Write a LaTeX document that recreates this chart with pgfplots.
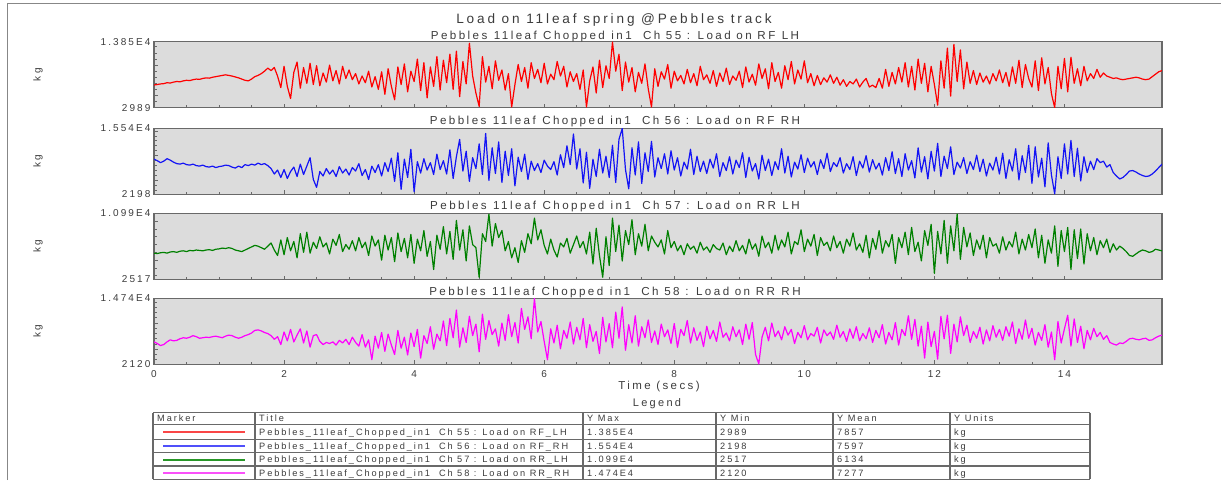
\documentclass[border=0pt]{standalone}
\usepackage{fontspec}
\setmainfont{Liberation Sans}
\newfontfamily\trk[LetterSpace=21]{Liberation Sans}
\usepackage{pgfplots}
\pgfplotsset{compat=1.18}
\definecolor{bg}{RGB}{220,220,220}
\definecolor{frm}{RGB}{105,105,105}
\definecolor{txt}{RGB}{60,60,60}
\definecolor{sred}{RGB}{255,0,0}
\definecolor{sblue}{RGB}{20,20,245}
\definecolor{sgreen}{RGB}{0,128,0}
\definecolor{smag}{RGB}{255,0,255}
\definecolor{lred}{RGB}{250,70,70}
\definecolor{lblue}{RGB}{80,80,250}
\definecolor{lgreen}{RGB}{40,150,40}
\definecolor{lmag}{RGB}{250,80,250}
\newcommand{\ft}[1]{\trk\fontsize{#1}{#1}\selectfont}
\newcommand{\us}{\hphantom{\_}}
\pgfplotsset{panel/.style={scale only axis, width=1008pt, height=66pt,
  xmin=0, xmax=15.5, axis background/.style={fill=bg},
  axis line style={draw=frm,line width=1.4pt},
  tick align=inside, xtick pos=left, ytick pos=left,
  xtick={0,2,...,14}, minor x tick num=3,
  major tick length=4pt, minor tick length=2.5pt,
  every tick/.style={draw=frm, line width=0.8pt},
  xticklabels={}, scaled y ticks=false,
  yticklabel style={font={\ft{10}}, text=txt},
  xticklabel style={font={\ft{10}}, text=txt, yshift=-2.5pt},
  /pgf/number format/assume math mode=true,
  every axis plot/.append style={line width=1.2pt, line join=round},
  anchor=south west}}
\begin{document}
\begin{tikzpicture}
\path[use as bounding box] (0pt,0pt) rectangle (1221pt,-480pt);
\draw[draw=frm!80, line width=0.9pt] (7.3pt,-480pt) -- (7.3pt,-3.3pt) -- (1221pt,-3.3pt);

% Panel 1
\begin{axis}[panel, at={(154pt,-107.7pt)},
  ymin=2989, ymax=13850, ytick={2989,5000,10000,13850}, yticklabels={2989,,,1.385E4},
  minor ytick={3000,4000,...,13000}]
\addplot[sred] table[row sep=\\, header=false, x expr=\coordindex*0.05, y index=0] {
6720\\ 6800\\ 6900\\ 6950\\ 7100\\ 7050\\ 7200\\ 7300\\ 7250\\ 7400\\
7500\\ 7450\\ 7600\\ 7700\\ 7650\\ 7800\\ 7900\\ 7850\\ 8000\\ 8100\\
8200\\ 8300\\ 8400\\ 8300\\ 8200\\ 8050\\ 7900\\ 7700\\ 7500\\ 7400\\
7700\\ 8100\\ 8300\\ 8600\\ 9000\\ 9500\\ 9100\\ 9600\\ 8200\\ 6300\\
9800\\ 6500\\ 4500\\ 8800\\ 10500\\ 6200\\ 9600\\ 7000\\ 10300\\ 6800\\
9900\\ 6600\\ 8700\\ 7200\\ 10000\\ 7400\\ 9100\\ 6900\\ 9800\\ 7800\\
9200\\ 7600\\ 8600\\ 6900\\ 8200\\ 7100\\ 9000\\ 6400\\ 8100\\ 6000\\
8900\\ 5200\\ 9400\\ 6500\\ 4300\\ 9700\\ 6800\\ 10200\\ 5600\\ 9000\\
7300\\ 11000\\ 5800\\ 10400\\ 4600\\ 9700\\ 6500\\ 11400\\ 5900\\ 10800\\
7100\\ 11800\\ 6000\\ 12300\\ 4800\\ 10600\\ 6900\\ 13600\\ 8200\\ 5400\\
3200\\ 11400\\ 7200\\ 9800\\ 6100\\ 10700\\ 7500\\ 9200\\ 5900\\ 8600\\
3100\\ 6800\\ 10100\\ 7300\\ 9600\\ 6200\\ 10400\\ 7800\\ 9300\\ 7100\\
10300\\ 6900\\ 8500\\ 7600\\ 10600\\ 8200\\ 9800\\ 6400\\ 8900\\ 7300\\
8600\\ 6000\\ 9200\\ 3100\\ 7400\\ 9700\\ 5400\\ 10800\\ 6300\\ 9900\\
7800\\ 13800\\ 9000\\ 11800\\ 5800\\ 10500\\ 7200\\ 9600\\ 5600\\ 8800\\
7000\\ 10200\\ 6100\\ 3100\\ 9400\\ 6500\\ 8900\\ 7700\\ 10100\\ 6200\\
9000\\ 7400\\ 8300\\ 6900\\ 9300\\ 7100\\ 8600\\ 6600\\ 9800\\ 7600\\
8400\\ 7000\\ 9100\\ 6500\\ 8700\\ 7300\\ 9500\\ 6800\\ 8200\\ 7500\\
9000\\ 6300\\ 9700\\ 7200\\ 8500\\ 6700\\ 10200\\ 7800\\ 9400\\ 6100\\
10400\\ 7300\\ 8800\\ 6200\\ 9900\\ 7600\\ 10600\\ 6900\\ 9200\\ 7700\\
10700\\ 7100\\ 8600\\ 6600\\ 8300\\ 6800\\ 7900\\ 7200\\ 8400\\ 7000\\
8000\\ 6700\\ 7600\\ 6500\\ 7300\\ 6900\\ 7700\\ 6400\\ 7200\\ 7800\\
6400\\ 6700\\ 6300\\ 7800\\ 6200\\ 9300\\ 6500\\ 8800\\ 6900\\ 9600\\
7200\\ 10400\\ 6400\\ 9800\\ 5900\\ 11000\\ 7000\\ 10300\\ 5600\\ 9800\\
6800\\ 3400\\ 10700\\ 6200\\ 12800\\ 4900\\ 13400\\ 7300\\ 12500\\ 6100\\
10500\\ 7000\\ 9100\\ 6800\\ 8700\\ 7200\\ 8200\\ 6900\\ 8600\\ 7400\\
9200\\ 7100\\ 8800\\ 6500\\ 9700\\ 7000\\ 10800\\ 6300\\ 10100\\ 7800\\
6400\\ 10700\\ 5800\\ 11200\\ 6900\\ 9600\\ 5300\\ 3000\\ 9800\\ 6100\\
11100\\ 5600\\ 11300\\ 7000\\ 9400\\ 6600\\ 9800\\ 7400\\ 8600\\ 7800\\
9300\\ 8000\\ 8700\\ 8200\\ 8000\\ 7800\\ 7900\\ 7700\\ 7600\\ 7700\\
7800\\ 7900\\ 8000\\ 7900\\ 7700\\ 7600\\ 7700\\ 8100\\ 8500\\ 8900\\ 9100\\
};
\end{axis}

% Panel 2
\begin{axis}[panel, at={(154pt,-194.3pt)},
  ymin=2198, ymax=15540, ytick={2198,5000,10000,15000,15540}, yticklabels={2198,,,,1.554E4},
  minor ytick={3000,4000,...,15000}]
\addplot[sblue] table[row sep=\\, header=false, x expr=\coordindex*0.05, y index=0] {
9300\\ 9000\\ 8600\\ 8900\\ 9400\\ 9100\\ 8700\\ 8400\\ 8300\\ 8500\\
8200\\ 8100\\ 8300\\ 8000\\ 7900\\ 8100\\ 7800\\ 7700\\ 7900\\ 7600\\
7800\\ 7900\\ 8100\\ 8000\\ 7700\\ 7500\\ 7900\\ 7600\\ 8200\\ 8000\\
8300\\ 8100\\ 8500\\ 8200\\ 8400\\ 8000\\ 7400\\ 6300\\ 7100\\ 5600\\
7200\\ 5400\\ 6800\\ 7700\\ 5800\\ 8300\\ 6200\\ 7900\\ 9600\\ 5200\\
3600\\ 6800\\ 5900\\ 7400\\ 6300\\ 7100\\ 5800\\ 7800\\ 6500\\ 7300\\
6100\\ 7600\\ 6900\\ 8400\\ 6000\\ 7200\\ 5200\\ 7900\\ 6600\\ 8200\\
5900\\ 8600\\ 6800\\ 9500\\ 4800\\ 10600\\ 3200\\ 9300\\ 5600\\ 11300\\
2700\\ 8800\\ 6500\\ 9400\\ 7100\\ 8600\\ 6200\\ 10300\\ 7200\\ 9000\\
6300\\ 11200\\ 5400\\ 9800\\ 13300\\ 6900\\ 10900\\ 4800\\ 9600\\ 7400\\
12400\\ 6200\\ 14500\\ 5000\\ 11600\\ 6400\\ 12800\\ 4600\\ 10900\\ 6000\\
11400\\ 3900\\ 9700\\ 6800\\ 10300\\ 5200\\ 8900\\ 7000\\ 8400\\ 6600\\
9100\\ 7900\\ 7200\\ 8800\\ 6100\\ 10200\\ 7600\\ 12000\\ 8200\\ 14400\\
7300\\ 11400\\ 4500\\ 10700\\ 3400\\ 9300\\ 5800\\ 11300\\ 6500\\ 9900\\
5600\\ 12100\\ 4600\\ 13300\\ 15500\\ 7200\\ 3300\\ 11600\\ 6100\\ 12800\\
4400\\ 10600\\ 6800\\ 12900\\ 5700\\ 9600\\ 7400\\ 10400\\ 6300\\ 11000\\
7100\\ 9600\\ 5900\\ 8700\\ 7300\\ 11300\\ 6200\\ 9900\\ 6800\\ 8900\\
6400\\ 9300\\ 7500\\ 10400\\ 5800\\ 8600\\ 7000\\ 9800\\ 6300\\ 9100\\
7600\\ 10600\\ 5600\\ 9700\\ 6900\\ 8400\\ 5300\\ 10100\\ 7000\\ 9300\\
6000\\ 8800\\ 7200\\ 11400\\ 6500\\ 9900\\ 5700\\ 8700\\ 7300\\ 10200\\
6600\\ 9500\\ 7700\\ 8800\\ 6200\\ 9200\\ 7400\\ 10500\\ 6800\\ 8600\\
7800\\ 9600\\ 6500\\ 8400\\ 7200\\ 9800\\ 6000\\ 8900\\ 7500\\ 10000\\
6700\\ 9200\\ 7300\\ 8500\\ 6100\\ 9600\\ 7000\\ 10800\\ 6400\\ 9400\\
5800\\ 10400\\ 7100\\ 9000\\ 5500\\ 11600\\ 6700\\ 9800\\ 5300\\ 10900\\
6900\\ 12500\\ 5800\\ 9900\\ 7400\\ 11800\\ 6200\\ 8700\\ 7500\\ 9600\\
6400\\ 8800\\ 7200\\ 10100\\ 6800\\ 9300\\ 5900\\ 8500\\ 7100\\ 9700\\
6300\\ 10500\\ 5400\\ 9200\\ 6900\\ 11400\\ 5100\\ 10000\\ 6600\\ 12100\\
4400\\ 11800\\ 5700\\ 9500\\ 3700\\ 12600\\ 6100\\ 2300\\ 9800\\ 5400\\
12400\\ 6300\\ 13100\\ 5800\\ 11500\\ 4900\\ 9800\\ 6600\\ 8900\\ 7200\\
9400\\ 8600\\ 8900\\ 7700\\ 8200\\ 6600\\ 5900\\ 5300\\ 5600\\ 6200\\
6900\\ 7000\\ 6700\\ 6300\\ 6000\\ 5800\\ 5900\\ 6300\\ 6900\\ 7600\\ 8300\\
};
\end{axis}

% Panel 3
\begin{axis}[panel, at={(154pt,-279.5pt)},
  ymin=2517, ymax=10990, ytick={2517,5000,10000,10990}, yticklabels={2517,,,1.099E4},
  minor ytick={3000,4000,...,10000}]
\addplot[sgreen] table[row sep=\\, header=false, x expr=\coordindex*0.05, y index=0] {
5900\\ 5850\\ 5950\\ 6000\\ 5900\\ 6050\\ 6100\\ 6000\\ 6150\\ 6200\\
6100\\ 6250\\ 6200\\ 6300\\ 6250\\ 6200\\ 6300\\ 6350\\ 6250\\ 6400\\
6450\\ 6550\\ 6500\\ 6600\\ 6500\\ 6300\\ 6200\\ 6100\\ 6300\\ 6500\\
6700\\ 6900\\ 6800\\ 6600\\ 6400\\ 6800\\ 7200\\ 6300\\ 5600\\ 7600\\
5700\\ 7900\\ 6200\\ 7400\\ 5300\\ 8400\\ 6000\\ 8600\\ 5900\\ 7300\\
6500\\ 8000\\ 6700\\ 7200\\ 5800\\ 7700\\ 6900\\ 8300\\ 6100\\ 7000\\
6400\\ 7500\\ 6200\\ 7900\\ 6600\\ 7300\\ 5600\\ 8100\\ 6800\\ 7600\\
5000\\ 8200\\ 6300\\ 7900\\ 4800\\ 8500\\ 6100\\ 7800\\ 5300\\ 8300\\
4600\\ 7700\\ 6200\\ 8800\\ 5500\\ 7400\\ 3800\\ 8200\\ 6400\\ 9300\\
5800\\ 8700\\ 5100\\ 10100\\ 6300\\ 8900\\ 4900\\ 9400\\ 7000\\ 6600\\
2800\\ 8400\\ 7400\\ 10900\\ 6800\\ 9700\\ 7900\\ 8800\\ 6200\\ 7400\\
5300\\ 6600\\ 4700\\ 7500\\ 6000\\ 8400\\ 7100\\ 10400\\ 7600\\ 8900\\
6900\\ 5800\\ 7700\\ 6300\\ 5400\\ 7200\\ 6700\\ 7800\\ 5900\\ 7000\\
8100\\ 6600\\ 7400\\ 5800\\ 8600\\ 4500\\ 9100\\ 5600\\ 2800\\ 8000\\
4300\\ 10400\\ 6100\\ 9500\\ 4900\\ 8800\\ 7000\\ 10200\\ 5700\\ 8400\\
6800\\ 9600\\ 6200\\ 8100\\ 7300\\ 6700\\ 7600\\ 5800\\ 8800\\ 6600\\
7400\\ 6200\\ 6900\\ 5700\\ 7100\\ 6400\\ 6800\\ 5900\\ 7300\\ 6300\\
6700\\ 6000\\ 7000\\ 6500\\ 6300\\ 7200\\ 5700\\ 6800\\ 6100\\ 7500\\
6200\\ 6900\\ 5800\\ 7700\\ 6400\\ 7100\\ 5500\\ 8100\\ 6600\\ 7300\\
5900\\ 8200\\ 6300\\ 7600\\ 6700\\ 8600\\ 5800\\ 7400\\ 7000\\ 8900\\
6100\\ 7700\\ 6800\\ 8300\\ 5600\\ 7900\\ 6900\\ 7300\\ 6200\\ 8100\\
6600\\ 7400\\ 5900\\ 7700\\ 6800\\ 8500\\ 6300\\ 7100\\ 6000\\ 8200\\
5300\\ 7800\\ 6400\\ 8800\\ 5900\\ 7500\\ 6700\\ 8300\\ 4600\\ 7900\\
6600\\ 8600\\ 5700\\ 9200\\ 6100\\ 7300\\ 4900\\ 8800\\ 6900\\ 9600\\
3300\\ 8700\\ 5800\\ 10100\\ 4600\\ 9400\\ 6200\\ 10900\\ 5100\\ 9200\\
6700\\ 8500\\ 5600\\ 7600\\ 6400\\ 8200\\ 5300\\ 7900\\ 6800\\ 7100\\
5900\\ 8000\\ 6300\\ 7400\\ 6700\\ 8600\\ 5800\\ 7700\\ 6300\\ 8300\\
6600\\ 9000\\ 5300\\ 8200\\ 4600\\ 7600\\ 5900\\ 9400\\ 4200\\ 8800\\
6100\\ 9200\\ 3800\\ 8900\\ 5200\\ 9000\\ 4500\\ 8400\\ 6200\\ 7900\\
5700\\ 7500\\ 6600\\ 7700\\ 6000\\ 7100\\ 6300\\ 6800\\ 6500\\ 6100\\
5600\\ 5500\\ 5800\\ 6100\\ 6300\\ 6200\\ 6000\\ 6100\\ 6400\\ 6300\\ 6200\\
};
\end{axis}

% Panel 4
\begin{axis}[panel, at={(154pt,-364.3pt)},
  ymin=2120, ymax=14740, ytick={2120,5000,10000,14740}, yticklabels={2120,,,1.474E4},
  minor ytick={3000,4000,...,14000}, xticklabels={0,2,4,6,8,10,12,14}]
\addplot[smag] table[row sep=\\, header=false, x expr=\coordindex*0.05, y index=0] {
6400\\ 6100\\ 5700\\ 5900\\ 6400\\ 6800\\ 6600\\ 6700\\ 7000\\ 7200\\
7100\\ 7300\\ 7600\\ 7400\\ 7100\\ 7200\\ 7300\\ 7250\\ 7400\\ 7500\\
7350\\ 7200\\ 7500\\ 7700\\ 7600\\ 7300\\ 7100\\ 7300\\ 7600\\ 7800\\
8100\\ 8600\\ 8700\\ 8500\\ 8200\\ 8000\\ 7600\\ 6900\\ 7400\\ 5900\\
8300\\ 6600\\ 8800\\ 6400\\ 7700\\ 8900\\ 6200\\ 8500\\ 5400\\ 7600\\
7800\\ 6500\\ 5900\\ 6300\\ 6100\\ 6400\\ 5800\\ 6700\\ 6200\\ 6900\\
5900\\ 7300\\ 6300\\ 5600\\ 7800\\ 5400\\ 6800\\ 3000\\ 7500\\ 5200\\
8200\\ 4600\\ 7900\\ 5800\\ 4000\\ 8600\\ 5200\\ 7300\\ 3900\\ 8100\\
5500\\ 8800\\ 3300\\ 7600\\ 6100\\ 9300\\ 5000\\ 7900\\ 6600\\ 10400\\
5700\\ 10900\\ 7200\\ 12500\\ 5400\\ 9100\\ 6300\\ 11300\\ 7600\\ 9800\\
4500\\ 11700\\ 6900\\ 10500\\ 7800\\ 8900\\ 5600\\ 10000\\ 6700\\ 11600\\
7400\\ 10100\\ 6200\\ 12800\\ 8800\\ 11200\\ 7000\\ 14700\\ 8300\\ 10300\\
6500\\ 3000\\ 8900\\ 6200\\ 9600\\ 5100\\ 8600\\ 7100\\ 10200\\ 6000\\
9200\\ 6800\\ 10900\\ 5300\\ 9700\\ 6500\\ 8400\\ 4200\\ 11100\\ 6400\\
9900\\ 5300\\ 12100\\ 7100\\ 13100\\ 4800\\ 9700\\ 6200\\ 11400\\ 5600\\
9300\\ 7200\\ 10600\\ 6300\\ 8500\\ 5900\\ 9800\\ 7400\\ 8700\\ 6100\\
9900\\ 5400\\ 8800\\ 7600\\ 10500\\ 6200\\ 9100\\ 6700\\ 8300\\ 5500\\
9400\\ 7000\\ 8600\\ 6500\\ 10200\\ 7300\\ 8100\\ 6600\\ 9300\\ 7400\\
8700\\ 5900\\ 9800\\ 6900\\ 10100\\ 4000\\ 2200\\ 7300\\ 9200\\ 6600\\
10000\\ 7400\\ 8500\\ 6800\\ 9300\\ 7700\\ 8800\\ 6100\\ 8200\\ 7200\\
9500\\ 6800\\ 8000\\ 7500\\ 9200\\ 6200\\ 8700\\ 7600\\ 8300\\ 6900\\
9600\\ 7300\\ 8400\\ 6500\\ 8900\\ 7100\\ 9300\\ 6600\\ 8000\\ 7000\\
9100\\ 6300\\ 8600\\ 7200\\ 9700\\ 6000\\ 8200\\ 6800\\ 10100\\ 5800\\
8800\\ 7600\\ 11400\\ 6900\\ 10700\\ 5600\\ 9400\\ 3300\\ 10200\\ 5500\\
8400\\ 3100\\ 11300\\ 7000\\ 11500\\ 4200\\ 9800\\ 6400\\ 11200\\ 7600\\
9600\\ 6300\\ 8400\\ 7100\\ 9200\\ 6000\\ 8700\\ 6600\\ 9500\\ 7300\\
8800\\ 6700\\ 9300\\ 7500\\ 10200\\ 6100\\ 8900\\ 6900\\ 10600\\ 7100\\
9000\\ 5800\\ 8200\\ 6700\\ 9700\\ 5400\\ 8300\\ 3000\\ 10300\\ 6200\\
8900\\ 11500\\ 5600\\ 10800\\ 6300\\ 9400\\ 5100\\ 8600\\ 6800\\ 9000\\
7400\\ 8200\\ 6900\\ 7600\\ 6300\\ 6000\\ 5800\\ 6200\\ 6100\\ 6500\\
7000\\ 7100\\ 6900\\ 6800\\ 7000\\ 7100\\ 6700\\ 6800\\ 7200\\ 7500\\ 7700\\
};
\end{axis}

% titles and labels
\node[anchor=base, text=txt, font={\ft{13.6}}] at (614pt,-23.3pt) {Load on 11leaf spring @Pebbles track};
\node[anchor=base, text=txt, font={\ft{11.6}}] at (615pt,-39.3pt) {Pebbles\us 11leaf\us Chopped\us in1\ \ Ch 55 : Load on RF\us LH};
\node[anchor=base, text=txt, font={\ft{11.6}}] at (615pt,-124.5pt) {Pebbles\us 11leaf\us Chopped\us in1\ \ Ch 56 : Load on RF\us RH};
\node[anchor=base, text=txt, font={\ft{11.6}}] at (615pt,-209.8pt) {Pebbles\us 11leaf\us Chopped\us in1\ \ Ch 57 : Load on RR\us LH};
\node[anchor=base, text=txt, font={\ft{11.6}}] at (615pt,-295.2pt) {Pebbles\us 11leaf\us Chopped\us in1\ \ Ch 58 : Load on RR\us RH};
\foreach \yc in {74.7,161.3,246.5,331.3}
  \node[rotate=90, text=txt, font={\ft{10}}] at (38pt,-\yc pt) {kg};
\node[anchor=base, text=txt, font={\ft{11.5}}] at (659pt,-389pt) {Time (secs)};
\node[anchor=base, text=txt, font={\ft{11}}] at (657pt,-406.5pt) {Legend};

% legend table
\begin{scope}[draw=frm, line width=1.1pt]
\foreach \yy in {412.7,424.3,439.3,452.7,466,479.3}
  \draw (153pt,-\yy pt) -- (1090pt,-\yy pt);
\foreach \xx in {153,255,583,716,833,950,1090}
  \draw (\xx pt,-412.7pt) -- (\xx pt,-479.3pt);
\end{scope}
\begin{scope}[every node/.style={anchor=base west, text=txt, font={\ft{9.2}}, inner sep=0pt}]
\node at (157pt,-421.8pt) {Marker};
\node at (259pt,-421.8pt) {Title};
\node at (587pt,-421.8pt) {Y Max};
\node at (720pt,-421.8pt) {Y Min};
\node at (837pt,-421.8pt) {Y Mean};
\node at (954pt,-421.8pt) {Y Units};
\foreach \yb/\ch/\pos/\ymx/\ymn/\ymean in {435.2/55/RF\_LH/1.385E4/2989/7857, 449.3/56/RF\_RH/1.554E4/2198/7597, 462.6/57/RR\_LH/1.099E4/2517/6134, 476/58/RR\_RH/1.474E4/2120/7277}{
  \node at (259pt,-\yb pt) {Pebbles\_11leaf\_Chopped\_in1\ \ Ch \ch\ : Load on \pos};
  \node at (587pt,-\yb pt) {\ymx};
  \node at (720pt,-\yb pt) {\ymn};
  \node at (837pt,-\yb pt) {\ymean};
  \node at (954pt,-\yb pt) {kg};
}
\end{scope}
\draw[draw=lred, line width=1.9pt] (163pt,-432pt) -- (245pt,-432pt);
\draw[draw=lblue, line width=1.9pt] (163pt,-446pt) -- (245pt,-446pt);
\draw[draw=lgreen, line width=1.9pt] (163pt,-460pt) -- (245pt,-460pt);
\draw[draw=lmag, line width=1.9pt] (163pt,-473pt) -- (245pt,-473pt);
\end{tikzpicture}
\end{document}
